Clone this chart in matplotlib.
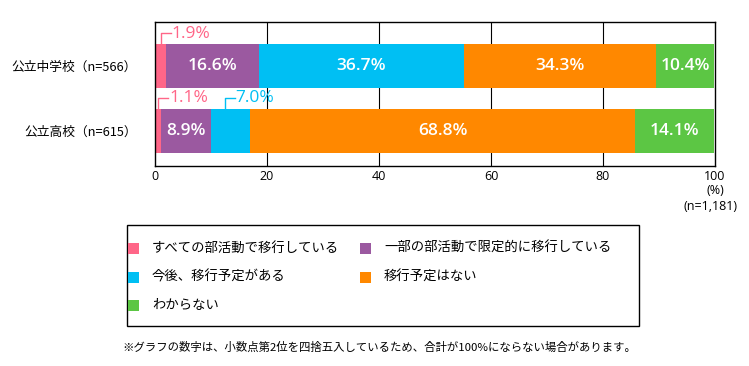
import matplotlib
matplotlib.use("Agg")
import matplotlib.pyplot as plt
from matplotlib.patches import Rectangle
from matplotlib.lines import Line2D

plt.rcParams['font.family'] = ['Noto Sans CJK JP', 'DejaVu Sans']
NUMFONT = ['Open Sans', 'Noto Sans CJK JP']

categories = ['公立中学校（n=566）', '公立高校（n=615）']
series_names = ['すべての部活動で移行している', '一部の部活動で限定的に移行している',
                '今後、移行予定がある', '移行予定はない', 'わからない']
values = [
    [1.9, 16.6, 36.7, 34.3, 10.4],
    [1.1, 8.9, 7.0, 68.8, 14.1],
]
colors = ['#FF6688', '#9B59A0', '#00BFF3', '#FF8800', '#5CC644']
xticks = [0, 20, 40, 60, 80, 100]

W, H = 749, 366
fig = plt.figure(figsize=(W/100, H/100), dpi=100)
ax = fig.add_axes([155/W, 1-166/H, 560/W, 144/H])
ax.set_xlim(0, 100)
ax.set_ylim(166, 22)  # pixel-like y coords, inverted
ypos = [66, 130.5]
bh = 44

for i, cat in enumerate(categories):
    left = 0
    for j, v in enumerate(values[i]):
        ax.barh(ypos[i], v, left=left, height=bh, color=colors[j], edgecolor='none', zorder=2)
        if v >= 5 and not (i == 1 and j == 2):
            ax.text(left + v/2, ypos[i], f'{v:.1f}%', ha='center', va='center',
                    color='white', fontsize=12.5, fontweight='semibold', family=NUMFONT, zorder=3)
        left += v

def callout(x_start, y_bar_top, text, color, ax=ax):
    y_h = y_bar_top - 11
    xr = x_start + 1.8
    ax.add_line(Line2D([x_start, x_start, xr], [y_bar_top, y_h, y_h], color=color, lw=1, zorder=4, clip_on=False))
    ax.text(xr + 0.1, y_h + 0.5, text, ha='left', va='center', color=color, fontsize=12.5,
            family=NUMFONT, zorder=4)

callout(values[0][0] * 0.5 + 0.15, ypos[0] - bh/2, f'{values[0][0]:.1f}%', colors[0])
callout(values[1][0] * 0.5 + 0.05, ypos[1] - bh/2, f'{values[1][0]:.1f}%', colors[0])
l2 = values[1][0] + values[1][1]
callout(l2 + values[1][2] * 0.35, ypos[1] - bh/2, f'{values[1][2]:.1f}%', colors[2])

for x in xticks[1:-1]:
    ax.axvline(x, color='black', lw=0.8, zorder=1)
for s in ax.spines.values():
    s.set_linewidth(1)
ax.set_xticks(xticks)
ax.set_xticklabels([str(t) for t in xticks], fontsize=9, family=NUMFONT)
ax.tick_params(axis='x', length=0, pad=3)
ax.set_yticks(ypos)
ax.set_yticklabels(categories, fontsize=9.2)
ax.tick_params(axis='y', length=0, pad=13)

fig.text(715/W, 1-190/H, '(%)', ha='center', va='center', fontsize=9, family=NUMFONT)
fig.text(737/W, 1-207/H, '(n=1,181)', ha='right', va='center', fontsize=9, family=NUMFONT)

# legend box
fig.patches.append(Rectangle((127/W, 1-326/H), (639-127)/W, (326-225)/H,
                             transform=fig.transFigure, fill=False, edgecolor='black', lw=1))
legend_pos = [(128, 248), (360, 248), (128, 277), (360, 277), (128, 305)]
for (lx, ly), name, c in zip(legend_pos, series_names, colors):
    fig.patches.append(Rectangle((lx/W, 1-(ly+5.5)/H), 11/W, 11/H, transform=fig.transFigure,
                                 facecolor=c, edgecolor='none'))
    fig.text((lx+24)/W, 1-ly/H, name, ha='left', va='center', fontsize=9.6)

fig.text(122/W, 1-347/H, '※グラフの数字は、小数点第2位を四捨五入しているため、合計が100%にならない場合があります。',
         ha='left', va='center', fontsize=8.2)

fig.savefig('out.png', dpi=100)
